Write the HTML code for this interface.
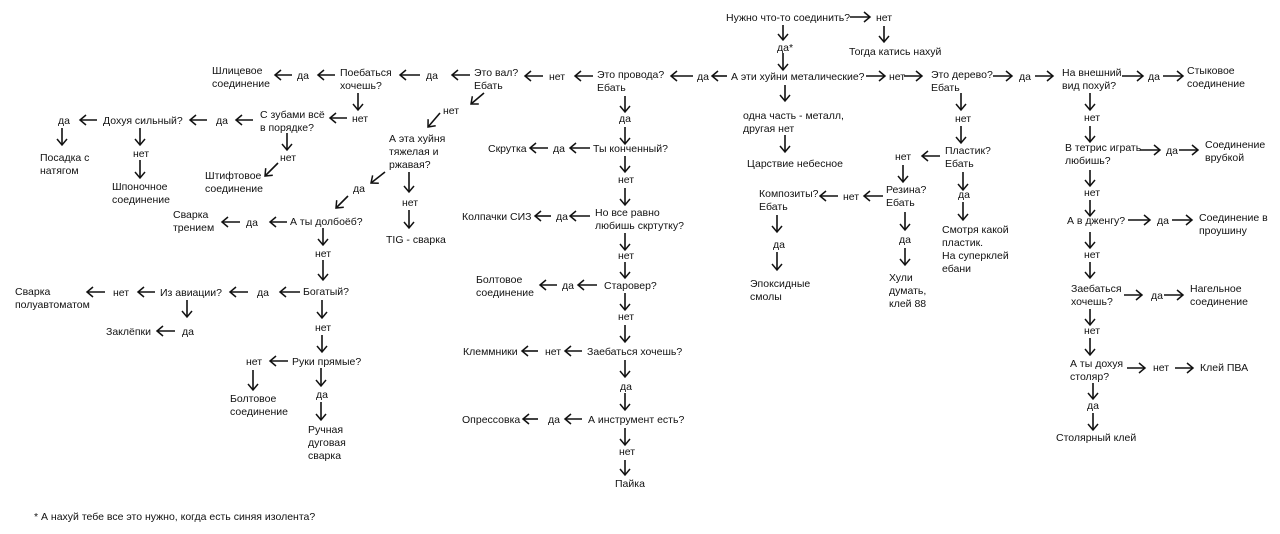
<!DOCTYPE html>
<html><head><meta charset="utf-8"><style>
html,body{margin:0;padding:0;background:#fff;width:1280px;height:534px;overflow:hidden}
svg text{font-family:"Liberation Sans","DejaVu Sans",sans-serif;font-size:10.5px;fill:#111}
</style></head><body>
<svg width="1280" height="534" xmlns="http://www.w3.org/2000/svg">
<defs><marker id="a" markerWidth="10" markerHeight="12" refX="7" refY="6" orient="auto" markerUnits="userSpaceOnUse"><path d="M1,1 L7,6 L1,11" fill="none" stroke="#111" stroke-width="1.5"/></marker></defs>
<g stroke="#111" stroke-width="1.6" marker-end="url(#a)">
<line x1="850" y1="17" x2="870" y2="17"/><line x1="884" y1="26" x2="884" y2="42"/>
<line x1="783" y1="25" x2="783" y2="40"/><line x1="783" y1="53" x2="783" y2="70"/>
<line x1="727" y1="76" x2="712" y2="76"/><line x1="693" y1="76" x2="671" y2="76"/>
<line x1="593" y1="76" x2="575" y2="76"/><line x1="543" y1="76" x2="525" y2="76"/>
<line x1="470" y1="75" x2="452" y2="75"/><line x1="420" y1="75" x2="400" y2="75"/>
<line x1="335" y1="75" x2="318" y2="75"/><line x1="292" y1="75" x2="275" y2="75"/>
<line x1="358" y1="93" x2="358" y2="110"/><line x1="347" y1="118" x2="330" y2="118"/>
<line x1="253" y1="120" x2="236" y2="120"/><line x1="207" y1="120" x2="190" y2="120"/>
<line x1="97" y1="120" x2="80" y2="120"/><line x1="62" y1="128" x2="62" y2="145"/>
<line x1="140" y1="128" x2="140" y2="145"/><line x1="140" y1="160" x2="140" y2="178"/>
<line x1="287" y1="133" x2="287" y2="150"/><line x1="278" y1="163" x2="265" y2="176"/>
<line x1="484" y1="93" x2="471" y2="104"/><line x1="440" y1="113" x2="428" y2="127"/>
<line x1="385" y1="172" x2="371" y2="183"/><line x1="348" y1="196" x2="336" y2="208"/>
<line x1="409" y1="172" x2="409" y2="192"/><line x1="409" y1="210" x2="409" y2="228"/>
<line x1="287" y1="222" x2="270" y2="222"/><line x1="240" y1="222" x2="222" y2="222"/>
<line x1="323" y1="228" x2="323" y2="245"/><line x1="323" y1="260" x2="323" y2="280"/>
<line x1="300" y1="292" x2="280" y2="292"/><line x1="248" y1="292" x2="230" y2="292"/>
<line x1="155" y1="292" x2="138" y2="292"/><line x1="105" y1="292" x2="87" y2="292"/>
<line x1="187" y1="300" x2="187" y2="317"/><line x1="175" y1="331" x2="157" y2="331"/>
<line x1="322" y1="300" x2="322" y2="318"/><line x1="322" y1="335" x2="322" y2="352"/>
<line x1="288" y1="361" x2="270" y2="361"/><line x1="253" y1="370" x2="253" y2="390"/>
<line x1="321" y1="368" x2="321" y2="386"/><line x1="321" y1="402" x2="321" y2="420"/>
<line x1="625" y1="96" x2="625" y2="112"/><line x1="625" y1="127" x2="625" y2="144"/>
<line x1="590" y1="148" x2="570" y2="148"/><line x1="548" y1="148" x2="530" y2="148"/>
<line x1="625" y1="156" x2="625" y2="172"/><line x1="625" y1="188" x2="625" y2="205"/>
<line x1="590" y1="216" x2="570" y2="216"/><line x1="551" y1="216" x2="535" y2="216"/>
<line x1="625" y1="233" x2="625" y2="250"/><line x1="625" y1="262" x2="625" y2="278"/>
<line x1="597" y1="285" x2="578" y2="285"/><line x1="557" y1="285" x2="540" y2="285"/>
<line x1="625" y1="293" x2="625" y2="310"/><line x1="625" y1="325" x2="625" y2="342"/>
<line x1="582" y1="351" x2="565" y2="351"/><line x1="538" y1="351" x2="522" y2="351"/>
<line x1="625" y1="360" x2="625" y2="377"/><line x1="625" y1="393" x2="625" y2="410"/>
<line x1="582" y1="419" x2="565" y2="419"/><line x1="538" y1="419" x2="523" y2="419"/>
<line x1="625" y1="428" x2="625" y2="445"/><line x1="625" y1="460" x2="625" y2="475"/>
<line x1="785" y1="85" x2="785" y2="101"/><line x1="785" y1="135" x2="785" y2="152"/>
<line x1="866" y1="76" x2="885" y2="76"/><line x1="904" y1="76" x2="922" y2="76"/>
<line x1="993" y1="76" x2="1012" y2="76"/><line x1="1035" y1="76" x2="1053" y2="76"/>
<line x1="1122" y1="76" x2="1143" y2="76"/><line x1="1163" y1="76" x2="1183" y2="76"/>
<line x1="961" y1="93" x2="961" y2="110"/><line x1="961" y1="126" x2="961" y2="143"/>
<line x1="940" y1="156" x2="922" y2="156"/><line x1="903" y1="165" x2="903" y2="182"/>
<line x1="883" y1="196" x2="864" y2="196"/><line x1="838" y1="196" x2="820" y2="196"/>
<line x1="777" y1="215" x2="777" y2="232"/><line x1="777" y1="252" x2="777" y2="270"/>
<line x1="905" y1="212" x2="905" y2="230"/><line x1="905" y1="248" x2="905" y2="265"/>
<line x1="963" y1="172" x2="963" y2="190"/><line x1="963" y1="202" x2="963" y2="220"/>
<line x1="1090" y1="93" x2="1090" y2="110"/><line x1="1090" y1="126" x2="1090" y2="142"/>
<line x1="1140" y1="150" x2="1160" y2="150"/><line x1="1179" y1="150" x2="1198" y2="150"/>
<line x1="1090" y1="170" x2="1090" y2="186"/><line x1="1090" y1="200" x2="1090" y2="216"/>
<line x1="1128" y1="220" x2="1150" y2="220"/><line x1="1172" y1="220" x2="1192" y2="220"/>
<line x1="1090" y1="232" x2="1090" y2="248"/><line x1="1090" y1="262" x2="1090" y2="278"/>
<line x1="1124" y1="295" x2="1142" y2="295"/><line x1="1164" y1="295" x2="1183" y2="295"/>
<line x1="1090" y1="309" x2="1090" y2="325"/><line x1="1090" y1="338" x2="1090" y2="355"/>
<line x1="1127" y1="368" x2="1145" y2="368"/><line x1="1175" y1="368" x2="1193" y2="368"/>
<line x1="1093" y1="383" x2="1093" y2="399"/><line x1="1093" y1="413" x2="1093" y2="430"/>
</g>
<text x="726" y="21">Нужно что-то соединить?</text><text x="876" y="21">нет</text>
<text x="849" y="55">Тогда катись нахуй</text><text x="777" y="51">да*</text>
<text x="731" y="80">А эти хуйни металические?</text><text x="697" y="80">да</text>
<text x="597" y="78">Это провода?</text><text x="597" y="91">Ебать</text>
<text x="549" y="80">нет</text><text x="474" y="76">Это вал?</text><text x="474" y="89">Ебать</text>
<text x="426" y="79">да</text><text x="340" y="76">Поебаться</text><text x="340" y="89">хочешь?</text>
<text x="297" y="79">да</text><text x="212" y="74">Шлицевое</text><text x="212" y="87">соединение</text>
<text x="352" y="122">нет</text><text x="260" y="118">С зубами всё</text><text x="260" y="131">в порядке?</text>
<text x="216" y="124">да</text><text x="103" y="124">Дохуя сильный?</text><text x="58" y="124">да</text>
<text x="40" y="161">Посадка с</text><text x="40" y="174">натягом</text>
<text x="133" y="157">нет</text><text x="112" y="190">Шпоночное</text><text x="112" y="203">соединение</text>
<text x="280" y="161">нет</text><text x="205" y="179">Штифтовое</text><text x="205" y="192">соединение</text>
<text x="443" y="114">нет</text><text x="389" y="142">А эта хуйня</text><text x="389" y="155">тяжелая и</text><text x="389" y="168">ржавая?</text>
<text x="353" y="192">да</text><text x="402" y="206">нет</text><text x="386" y="243">TIG - сварка</text>
<text x="290" y="225">А ты долбоёб?</text><text x="246" y="226">да</text>
<text x="173" y="218">Сварка</text><text x="173" y="231">трением</text>
<text x="315" y="257">нет</text><text x="303" y="295">Богатый?</text><text x="257" y="296">да</text>
<text x="160" y="296">Из авиации?</text><text x="113" y="296">нет</text>
<text x="15" y="295">Сварка</text><text x="15" y="308">полуавтоматом</text>
<text x="182" y="335">да</text><text x="106" y="335">Заклёпки</text>
<text x="315" y="331">нет</text><text x="292" y="365">Руки прямые?</text><text x="246" y="365">нет</text>
<text x="230" y="402">Болтовое</text><text x="230" y="415">соединение</text>
<text x="316" y="398">да</text><text x="308" y="433">Ручная</text><text x="308" y="446">дуговая</text><text x="308" y="459">сварка</text>
<text x="619" y="122">да</text><text x="593" y="152">Ты конченный?</text><text x="553" y="152">да</text><text x="488" y="152">Скрутка</text>
<text x="618" y="183">нет</text><text x="595" y="216">Но все равно</text><text x="595" y="229">любишь скртутку?</text>
<text x="556" y="220">да</text><text x="462" y="220">Колпачки СИЗ</text>
<text x="618" y="259">нет</text><text x="604" y="289">Старовер?</text><text x="562" y="289">да</text>
<text x="476" y="283">Болтовое</text><text x="476" y="296">соединение</text>
<text x="618" y="320">нет</text><text x="587" y="355">Заебаться хочешь?</text><text x="545" y="355">нет</text><text x="463" y="355">Клеммники</text>
<text x="620" y="390">да</text><text x="588" y="423">А инструмент есть?</text><text x="548" y="423">да</text><text x="462" y="423">Опрессовка</text>
<text x="619" y="455">нет</text><text x="615" y="487">Пайка</text>
<text x="743" y="119">одна часть - металл,</text><text x="743" y="132">другая нет</text>
<text x="747" y="167">Царствие небесное</text>
<text x="889" y="80">нет</text><text x="931" y="78">Это дерево?</text><text x="931" y="91">Ебать</text>
<text x="1019" y="80">да</text><text x="1062" y="76">На внешний</text><text x="1062" y="89">вид похуй?</text>
<text x="1148" y="80">да</text><text x="1187" y="74">Стыковое</text><text x="1187" y="87">соединение</text>
<text x="955" y="122">нет</text><text x="945" y="154">Пластик?</text><text x="945" y="167">Ебать</text>
<text x="895" y="160">нет</text><text x="886" y="193">Резина?</text><text x="886" y="206">Ебать</text>
<text x="843" y="200">нет</text><text x="759" y="197">Композиты?</text><text x="759" y="210">Ебать</text>
<text x="773" y="248">да</text><text x="750" y="287">Эпоксидные</text><text x="750" y="300">смолы</text>
<text x="899" y="243">да</text><text x="889" y="281">Хули</text><text x="889" y="294">думать,</text><text x="889" y="307">клей 88</text>
<text x="958" y="198">да</text><text x="942" y="233">Смотря какой</text><text x="942" y="246">пластик.</text><text x="942" y="259">На суперклей</text><text x="942" y="272">ебани</text>
<text x="1084" y="121">нет</text><text x="1065" y="151">В тетрис играть</text><text x="1065" y="164">любишь?</text>
<text x="1166" y="154">да</text><text x="1205" y="148">Соединение</text><text x="1205" y="161">врубкой</text>
<text x="1084" y="196">нет</text><text x="1067" y="224">А в дженгу?</text><text x="1157" y="224">да</text>
<text x="1199" y="221">Соединение в</text><text x="1199" y="234">проушину</text>
<text x="1084" y="258">нет</text><text x="1071" y="292">Заебаться</text><text x="1071" y="305">хочешь?</text>
<text x="1151" y="299">да</text><text x="1190" y="292">Нагельное</text><text x="1190" y="305">соединение</text>
<text x="1084" y="334">нет</text><text x="1070" y="367">А ты дохуя</text><text x="1070" y="380">столяр?</text>
<text x="1153" y="371">нет</text><text x="1200" y="371">Клей ПВА</text>
<text x="1087" y="409">да</text><text x="1056" y="441">Столярный клей</text>
<text x="34" y="520">* А нахуй тебе все это нужно, когда есть синяя изолента?</text>
</svg>
</body></html>
